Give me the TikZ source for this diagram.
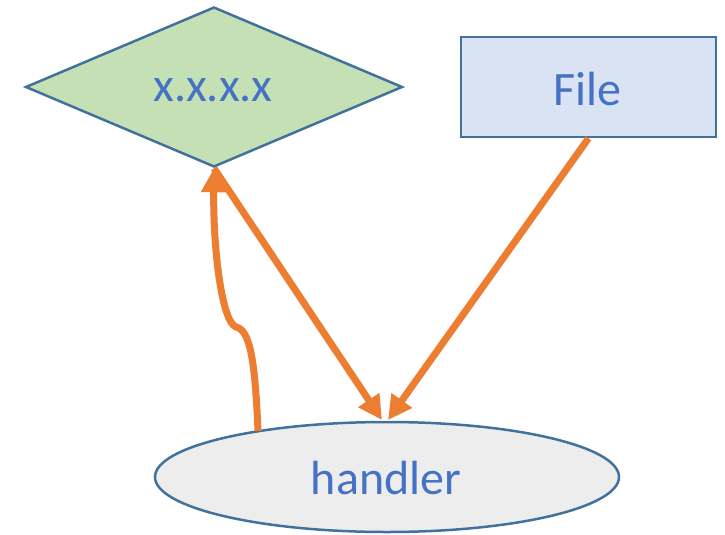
\documentclass[tikz,border=0pt]{standalone}
\usepackage{fontspec}
\setmainfont{Carlito}
\usetikzlibrary{shapes.geometric,arrows.meta}
\definecolor{edge}{HTML}{41719C}
\definecolor{txt}{HTML}{4472C4}
\definecolor{org}{HTML}{ED7D31}
\definecolor{gfill}{HTML}{C5E0B4}
\definecolor{bfill}{HTML}{DAE3F3}
\definecolor{efill}{HTML}{EDEDED}
\begin{document}
\begin{tikzpicture}[x=1pt,y=-1pt,
  every node/.style={font=\fontsize{48}{52}\selectfont, text=txt},
  shapebox/.style={draw=edge, line width=2.5pt, inner sep=0pt},
  conn/.style={draw=org, line width=7pt, -{Triangle[length=24pt,width=24pt]}}]
\useasboundingbox (0,0) rectangle (725,535);
\node[shapebox, diamond, fill=gfill, minimum width=377pt, minimum height=160pt, aspect=2.36] (d) at (214,87) {};
\node at (213,90) {x.x.x.x};
\node[shapebox, rectangle, fill=bfill, minimum width=255pt, minimum height=100pt] (f) at (588.5,87) {};
\node at (587,89) {File};
\node[shapebox, ellipse, fill=efill, minimum width=464pt, minimum height=110pt] (h) at (387,477) {};
\node at (386,478) {handler};
\coordinate (ht) at (385,420);
\coordinate (k) at (236,327);
\draw[conn] (d.south) -- ([xshift=-3pt]ht);
\draw[conn] (f.south) -- ([xshift=3pt]ht);
\draw[conn] (258,431) .. controls (255,360) and (250,330) .. (k) .. controls (222,322) and (213,250) .. (d.south);
\end{tikzpicture}
\end{document}
